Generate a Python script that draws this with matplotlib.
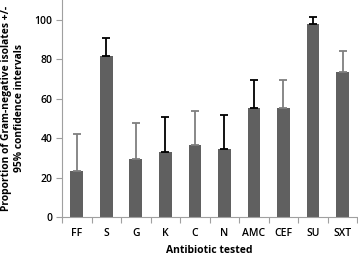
import matplotlib
matplotlib.use("Agg")
import matplotlib.pyplot as plt
import numpy as np

categories = ["FF", "S", "G", "K", "C", "N", "AMC", "CEF", "SU", "SXT"]
proportions = [23.5, 81.4, 29.5, 33.2, 36.6, 34.5, 55.5, 55.5, 98.0, 73.5]
upper_ci = [42.3, 90.5, 47.4, 50.5, 53.5, 51.5, 69.6, 69.6, 101.3, 84.2]

err_colors = ["#7f7f7f", "#000000", "#7f7f7f", "#000000", "#7f7f7f",
              "#000000", "#000000", "#7f7f7f", "#000000", "#7f7f7f"]

plt.rcParams['font.family'] = ['Open Sans', 'DejaVu Sans']

fig = plt.figure(figsize=(3.58, 2.56), dpi=100)
ax = fig.add_axes([62/358, 1 - 217/256, 1 - 62/358 - 0.002, 217/256])

x = np.arange(len(categories))
ax.bar(x, proportions, width=0.43, color="#606060", zorder=2)
for xi, p, u, c in zip(x, proportions, upper_ci, err_colors):
    ax.errorbar([xi], [p], yerr=[[0], [u - p]], fmt='none', ecolor=c,
                elinewidth=1.3, capsize=3, capthick=1.3, zorder=3)

ax.set_xlim(-0.5, len(categories) - 0.5)
ax.set_ylim(0, 110)
ax.set_yticks([0, 20, 40, 60, 80, 100])
ax.set_xticks(x)
ax.set_xticklabels(categories)
ax.set_xticks(np.arange(-0.5, len(categories)), minor=True)
ax.tick_params(axis='x', which='major', length=0, pad=8, labelsize=7.5)
ax.tick_params(axis='x', which='minor', length=4, color="#a0a0a0", width=0.8)
ax.tick_params(axis='y', length=4, color="#a0a0a0", width=0.8, labelsize=7.5, pad=3)
for lab in ax.get_xticklabels() + ax.get_yticklabels():
    lab.set_fontweight('semibold')

for s in ["top", "right"]:
    ax.spines[s].set_visible(False)
for s in ["left", "bottom"]:
    ax.spines[s].set_color("#a0a0a0")
    ax.spines[s].set_linewidth(0.8)

ax.set_ylabel("Proportion of Gram-negative isolates +/-\n95% confidence intervals",
              fontsize=7.4, fontweight='bold', labelpad=7, linespacing=1.25)
ax.set_xlabel("Antibiotic tested", fontsize=7.5, fontweight='bold', labelpad=4)

fig.savefig("out.png", dpi=100)
